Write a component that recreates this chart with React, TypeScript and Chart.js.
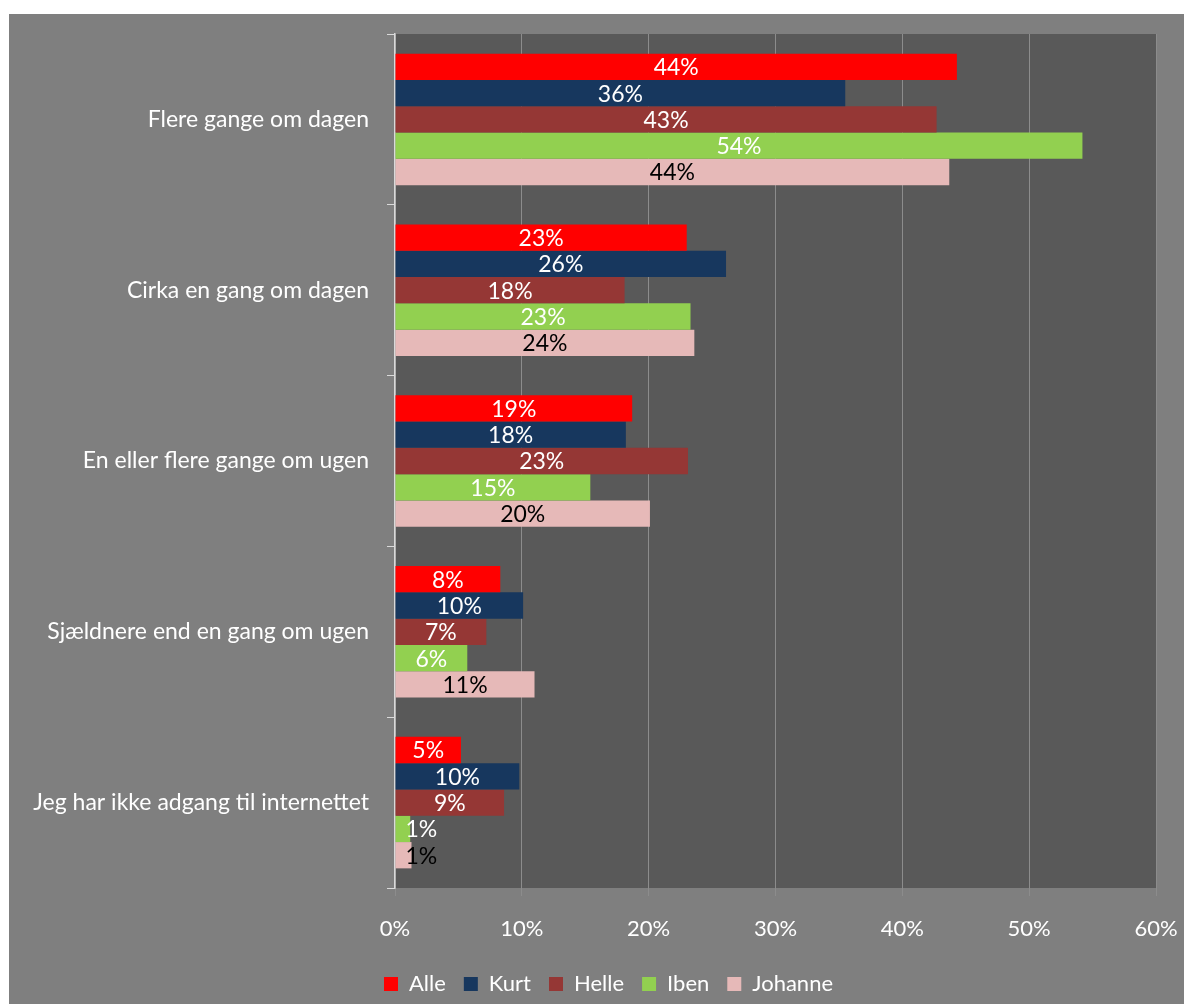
import React, { useEffect, useRef } from 'react';
import { Chart, registerables } from 'chart.js';

Chart.register(...registerables);

const categories = [
  'Flere gange om dagen',
  'Cirka en gang om dagen',
  'En eller flere gange om ugen',
  'Sjældnere end en gang om ugen',
  'Jeg har ikke adgang til internettet',
];
const seriesNames = ['Alle', 'Kurt', 'Helle', 'Iben', 'Johanne'];
const alle = [44.3, 23.0, 18.7, 8.3, 5.2];
const kurt = [35.5, 26.1, 18.2, 10.1, 9.8];
const helle = [42.7, 18.1, 23.1, 7.2, 8.6];
const iben = [54.2, 23.3, 15.4, 5.7, 1.2];
const johanne = [43.7, 23.6, 20.1, 11.0, 1.3];
const xTickValues = [0, 10, 20, 30, 40, 50, 60];

const seriesValues = [alle, kurt, helle, iben, johanne];
const seriesColors = ['#FF0000', '#17375E', '#953735', '#92D050', '#E6B9B8'];
const labelColors = ['#FFFFFF', '#FFFFFF', '#FFFFFF', '#FFFFFF', '#000000'];

const FONT = 'Lato';

const backgroundPlugin = {
  id: 'bgPlugin',
  afterLayout(chart: any) {
    const lg = chart.legend;
    if (lg) {
      lg.left += 26;
      lg.right += 26;
    }
  },
  beforeDraw(chart: any) {
    const { ctx, width, height, chartArea } = chart;
    ctx.save();
    ctx.fillStyle = '#FFFFFF';
    ctx.fillRect(0, 0, width, height);
    ctx.fillStyle = '#7F7F7F';
    ctx.fillRect(9, 14, width - 9, height - 14);
    ctx.fillStyle = '#595959';
    ctx.fillRect(chartArea.left, chartArea.top, chartArea.right - chartArea.left, chartArea.bottom - chartArea.top);
    ctx.restore();
  },
};

const dataLabelPlugin = {
  id: 'dataLabels',
  afterDatasetsDraw(chart: any) {
    const { ctx } = chart;
    ctx.save();
    ctx.font = `23px ${FONT}`;
    ctx.textAlign = 'center';
    ctx.textBaseline = 'middle';
    chart.data.datasets.forEach((ds: any, di: number) => {
      const meta = chart.getDatasetMeta(di);
      meta.data.forEach((el: any, i: number) => {
        const v = ds.data[i];
        const text = Math.round(v) + '%';
        const w = ctx.measureText(text).width;
        const center = (el.x + el.base) / 2;
        const cx = Math.max(center, el.base + w / 2 + 10);
        ctx.fillStyle = labelColors[di];
        ctx.fillText(text, cx, el.y + 1);
      });
    });
    ctx.restore();
  },
};

export default function App() {
  const ref = useRef<HTMLCanvasElement>(null);
  useEffect(() => {
    document.body.style.margin = '0';
    const canvas = ref.current!;
    const chart = new Chart(canvas, {
      type: 'bar',
      data: {
        labels: categories,
        datasets: seriesNames.map((name, i) => ({
          label: name,
          data: seriesValues[i],
          backgroundColor: seriesColors[i],
          borderWidth: 0,
          categoryPercentage: 0.77,
          barPercentage: 1.0,
        })),
      },
      options: {
        indexAxis: 'y',
        responsive: false,
        animation: false,
        layout: { padding: { left: 9, right: 28, top: 34, bottom: -1 } },
        plugins: {
          legend: {
            position: 'bottom',
            labels: {
              boxWidth: 14,
              boxHeight: 14,
              padding: 18,
              color: '#FFFFFF',
              font: { family: FONT, size: 22 },
            },
          },
          tooltip: { enabled: false },
        },
        scales: {
          x: {
            min: 0,
            max: 60,
            afterBuildTicks: (scale: any) => {
              scale.ticks = xTickValues.map((v) => ({ value: v }));
            },
            afterFit: (scale: any) => {
              scale.height = 67;
              scale.paddingLeft = 0;
              scale.paddingRight = 0;
            },
            ticks: {
              color: '#FFFFFF',
              font: { family: FONT, size: 22 },
              padding: 20,
              callback: (v: any) => v + '%',
            },
            grid: { color: '#8C8C8C', tickLength: 8, lineWidth: 1 },
            border: { display: false },
          },
          y: {
            afterFit: (scale: any) => {
              scale.width = 386;
            },
            ticks: {
              color: '#FFFFFF',
              font: { family: FONT, size: 23 },
              padding: 18,
            },
            grid: {
              drawOnChartArea: false,
              color: '#D9D9D9',
              tickLength: 8,
              offset: true,
            },
            border: { color: '#D9D9D9', width: 1.5 },
          },
        },
      },
      plugins: [backgroundPlugin, dataLabelPlugin],
    } as any);
    return () => chart.destroy();
  }, []);
  return <canvas ref={ref} width={1184} height={1004} style={{ display: 'block', width: 1184, height: 1004 }} />;
}
